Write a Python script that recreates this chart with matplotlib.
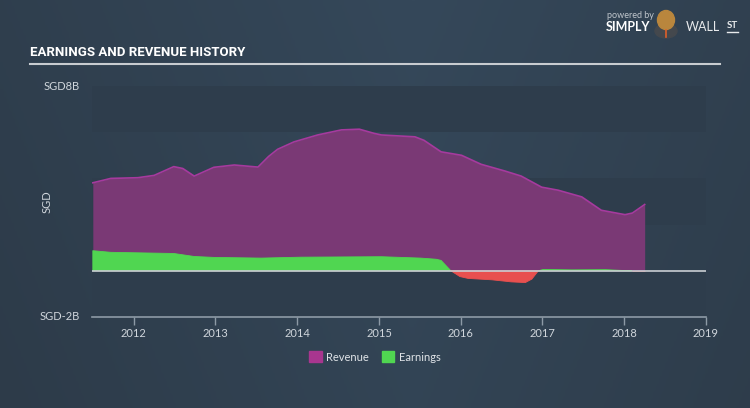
import numpy as np
import matplotlib
matplotlib.use("Agg")
import matplotlib.pyplot as plt
from matplotlib import font_manager
from matplotlib.patches import Patch, Ellipse
from matplotlib.lines import Line2D

# revenue history (SGD billions)
rev_x = [2011.5, 2011.72, 2012.05, 2012.25, 2012.49, 2012.6, 2012.74, 2012.98,
         2013.23, 2013.52, 2013.65, 2013.76, 2013.96, 2014.25, 2014.54, 2014.76,
         2014.94, 2015.03, 2015.44, 2015.55, 2015.76, 2016.01, 2016.25, 2016.54,
         2016.74, 2016.99, 2017.19, 2017.48, 2017.72, 2018.01, 2018.1, 2018.25]
rev_y = [3.81, 4.0, 4.03, 4.13, 4.51, 4.43, 4.1, 4.48,
         4.58, 4.49, 4.95, 5.26, 5.58, 5.88, 6.1, 6.13,
         5.95, 5.88, 5.8, 5.65, 5.15, 5.0, 4.61, 4.32,
         4.1, 3.62, 3.49, 3.2, 2.62, 2.43, 2.5, 2.87]

# earnings history (SGD billions)
earn_x = [2011.5, 2011.72, 2012.49, 2012.74, 2012.98, 2013.56, 2014.05, 2015.03,
          2015.51, 2015.7, 2015.76, 2015.88, 2015.99, 2016.09, 2016.38, 2016.62,
          2016.79, 2016.87, 2016.95, 2017.01, 2017.36, 2017.77, 2018.01, 2018.25]
earn_y = [0.87, 0.8, 0.75, 0.62, 0.58, 0.55, 0.59, 0.61,
          0.55, 0.5, 0.45, 0.0, -0.25, -0.33, -0.39, -0.48,
          -0.51, -0.36, 0.0, 0.06, 0.04, 0.05, 0.01, -0.02]

years = [2012, 2013, 2014, 2015, 2016, 2017, 2018, 2019]

BG = "#324353"
BAND = "#2e3d4c"
REV_FILL = "#7a3975"
REV_LINE = "#a63a9e"
GREEN = "#50d651"
RED = "#e8504f"
TXT = "#d0d6dc"
FONT = ["Lato", "DejaVu Sans"]

plt.rcParams["font.family"] = FONT

# pick a narrow face for the title if one is installed
installed = {f.name for f in font_manager.fontManager.ttflist}
title_kw = dict(fontsize=10.5, fontweight="bold")
if "Liberation Sans Narrow" in installed:
    title_kw["family"] = ["Liberation Sans Narrow", "DejaVu Sans"]
    title_kw["fontsize"] = 11
elif "DejaVu Sans Condensed" in installed:
    title_kw["family"] = ["DejaVu Sans Condensed", "DejaVu Sans"]
    title_kw["fontsize"] = 9
else:
    title_kw["family"] = ["Roboto", "DejaVu Sans"]
    title_kw["fontsize"] = 9.5
    title_kw["fontstretch"] = "condensed"

fig = plt.figure(figsize=(7.5, 4.08), dpi=100)
fig.patch.set_facecolor(BG)

# subtle background gradient
bg = fig.add_axes([0, 0, 1, 1], zorder=-10)
grad = np.linspace(0, 1, 256)
gx, gy = np.meshgrid(grad, grad)
val = 1 - np.abs(gx - 0.55) * 0.9 - gy * 0.2
bg.imshow(val, cmap=matplotlib.colors.LinearSegmentedColormap.from_list(
    "bg", ["#2d3b49", "#35485a"]), aspect="auto", extent=[0, 1, 0, 1],
    vmin=0.3, vmax=1.0)
bg.axis("off")

ax = fig.add_axes([92 / 750, 1 - 317 / 408, 614 / 750, 231 / 408])
ax.set_facecolor("none")
ax.set_xlim(2011.49, 2019.0)
ax.set_ylim(-2, 8)

for lo in [-2, 2, 6]:
    ax.axhspan(lo, lo + 2, color=BAND, lw=0, zorder=0)

ax.fill_between(rev_x, 0, rev_y, color=REV_FILL, lw=0, zorder=1)
ax.plot(rev_x, rev_y, color=REV_LINE, lw=1.2, zorder=2)

ex = np.array(earn_x)
ey = np.array(earn_y)
ax.fill_between(ex, 0, ey, where=ey >= 0, interpolate=True, color=GREEN, lw=0.6,
                edgecolor=GREEN, zorder=3)
ax.fill_between(ex, 0, ey, where=ey <= 0, interpolate=True, color=RED, lw=0.6,
                edgecolor=RED, zorder=3)

ax.axhline(0, color="#c9ced3", lw=1.2, zorder=4)

for s in ["top", "right", "left"]:
    ax.spines[s].set_visible(False)
ax.spines["bottom"].set_color("#8d9aa6")
ax.spines["bottom"].set_linewidth(1.2)
ax.set_xticks(years)
ax.set_xticklabels([str(y) for y in years])
ax.tick_params(axis="x", colors="#8d9aa6", length=6, width=1, labelcolor=TXT,
               labelsize=8, pad=2)
ax.set_yticks([])

fig.text(80 / 750, 1 - 86 / 408, "SGD8B", ha="right", va="center", color=TXT, fontsize=8)
fig.text(80 / 750, 1 - 317 / 408, "SGD-2B", ha="right", va="center", color=TXT, fontsize=8)
fig.text(47 / 750, 1 - 202 / 408, "SGD", ha="center", va="center", color=TXT,
         fontsize=8, rotation=90)

# title and underline
fig.text(30 / 750, 1 - 53 / 408, "EARNINGS AND REVENUE HISTORY", ha="left", va="center",
         color="white", **title_kw)
fig.add_artist(Line2D([30 / 750, 720 / 750], [1 - 64 / 408, 1 - 64 / 408],
                      color="#c8ccd0", lw=1.5))

# logo
fig.text(607 / 750, 1 - 15 / 408, "powered by", ha="left", va="center",
         color="#c0c6cc", fontsize=6.5)
fig.text(606 / 750, 1 - 27 / 408, "SIMPLY", ha="left", va="center",
         color="white", fontsize=9, fontweight="bold")
fig.text(686 / 750, 1 - 27 / 408, "WALL", ha="left", va="center",
         color="#e8eaec", fontsize=9)
fig.text(727 / 750, 1 - 26 / 408, "ST", ha="left", va="center",
         color="#e8eaec", fontsize=7, fontweight="bold")
fig.add_artist(Line2D([727 / 750, 738 / 750], [1 - 32 / 408, 1 - 32 / 408],
                      color="#e8eaec", lw=1))
fig.add_artist(Ellipse((666 / 750, 1 - 31 / 408), 22 / 750, 14 / 408,
                       color="#44484d", zorder=5))
fig.add_artist(Ellipse((666 / 750, 1 - 20 / 408), 17 / 750, 19 / 408,
                       color="#b9863d", zorder=6))
fig.add_artist(Line2D([666 / 750, 666 / 750], [1 - 30 / 408, 1 - 37 / 408],
                      color="#e0602a", lw=1.2, zorder=7))

# legend
handles = [Patch(color="#a8368f", label="Revenue"), Patch(color=GREEN, label="Earnings")]
fig.legend(handles=handles, loc="center", bbox_to_anchor=(375 / 750, 1 - 357 / 408),
           ncol=2, frameon=False, fontsize=8, labelcolor="#e0e4e8",
           handlelength=1.1, handleheight=1.1, handletextpad=0.4, columnspacing=1.2)

fig.savefig("out.png", dpi=100, facecolor=fig.get_facecolor())
